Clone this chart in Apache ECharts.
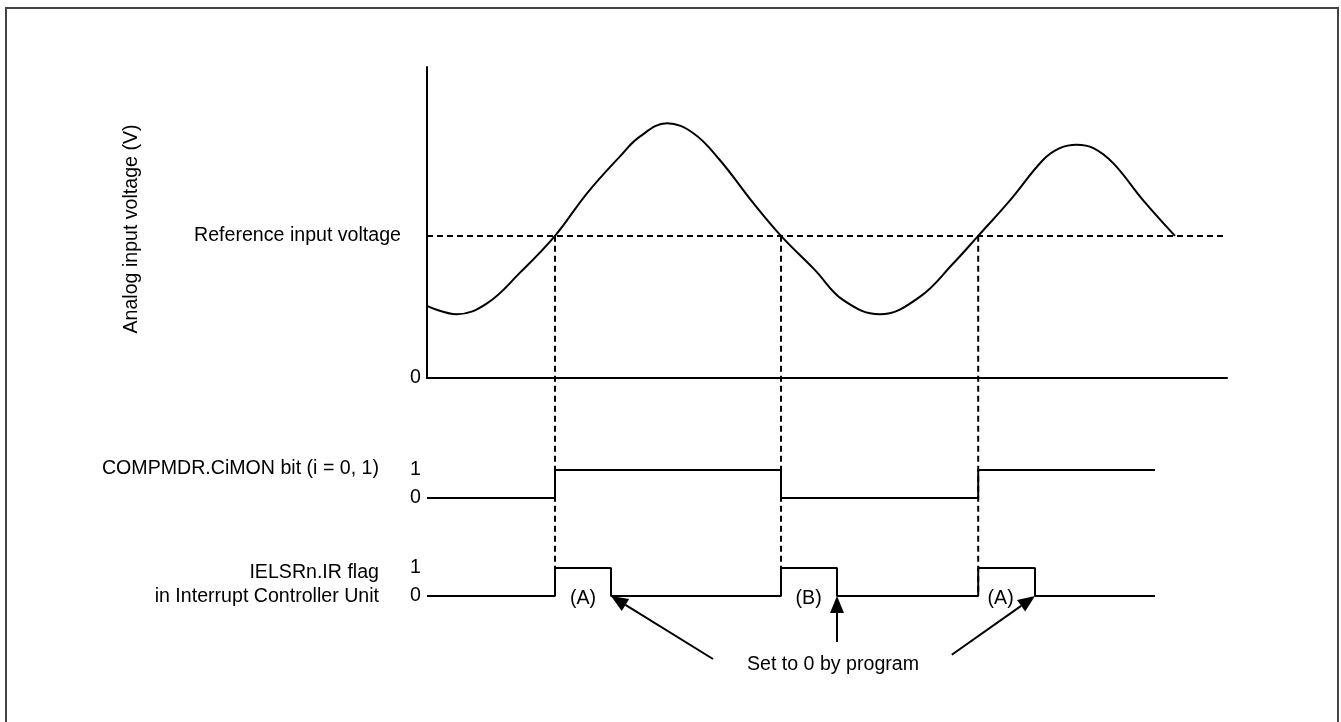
<!DOCTYPE html>
<html>
<head>
<meta charset="utf-8">
<script src="https://cdn.jsdelivr.net/npm/echarts@6/dist/echarts.min.js"></script>
<style>
    html, body { margin: 0; padding: 0; background: #fff; }
    #chart { width: 1341px; height: 722px; }
</style>
</head>
<body>
<div id="chart"></div>
<script>
// analog input waveform (time units 0..100, voltage units 0..100)
var timeSamples = [0, 3.7, 7.5, 11.6, 16, 20, 24.1, 26.6, 30, 33.3, 36.6, 40.8, 44.25, 48.5, 52, 56.6, 61.6, 65.8, 68.9, 72.9, 77, 79.1, 81.2, 83.3, 85.8, 89.5, 93.5];
var voltageSamples = [23.2, 20.5, 24.0, 33.8, 45.7, 59.4, 71.2, 77.6, 81.9, 78.7, 70.1, 56.2, 45.7, 34.7, 25.1, 20.5, 26.1, 36.9, 45.7, 57.2, 70.1, 73.9, 75.0, 73.9, 69.0, 57.2, 45.7];
var referenceVoltage = 45.7;
var crossTimes = [16, 44.25, 68.9];

// COMPMDR.CiMON bit (level changes)
var monTimes = [0, 16, 44.25, 68.9, 91];
var monLevels = [0, 1, 0, 1, 1];

// IELSRn.IR flag (level changes)
var irTimes = [0, 16, 23, 44.25, 51.25, 68.9, 76, 91];
var irLevels = [0, 1, 0, 1, 0, 1, 0, 0];

// annotations
var pulseTags = ['(A)', '(B)', '(A)'];
var tagTimes = [19.5, 47.7, 71.7];
var clearTimes = [23, 51.25, 76];
var arrowTails = [[35.75, -2.25], [51.25, -1.64], [65.6, -2.1]];
var noteText = 'Set to 0 by program';
var notePos = [50.75, -2.46];

var FONT = 'Liberation Sans, Arial, sans-serif';
var FS = 19.6;

function zip(xs, ys) {
    var out = [];
    for (var i = 0; i < xs.length; i++) {
        out.push([xs[i], ys[i]]);
    }
    return out;
}

var chart = echarts.init(document.getElementById('chart'));

var hiddenX = function (idx) {
    return {
        type: 'value', gridIndex: idx, min: 0, max: 100,
        axisLine: { show: false }, axisTick: { show: false },
        axisLabel: { show: false }, splitLine: { show: false }
    };
};
var levelY = function (idx) {
    return {
        type: 'value', gridIndex: idx, min: 0, max: 1, interval: 1,
        axisLine: { show: false }, axisTick: { show: false }, splitLine: { show: false },
        axisLabel: { color: '#000', fontFamily: FONT, fontSize: FS, margin: 6 }
    };
};

var option = {
    animation: false,
    backgroundColor: '#fff',
    grid: [
        { left: 427, top: 67, width: 800, height: 311 },
        { left: 427, top: 470, width: 800, height: 28 },
        { left: 427, top: 568, width: 800, height: 28 }
    ],
    xAxis: [
        {
            type: 'value', gridIndex: 0, min: 0, max: 100,
            axisLine: { show: true, lineStyle: { color: '#000', width: 2 } },
            axisTick: { show: false }, axisLabel: { show: false }, splitLine: { show: false }
        },
        hiddenX(1),
        hiddenX(2)
    ],
    yAxis: [
        {
            type: 'value', gridIndex: 0, min: 0, max: 100, interval: 100,
            axisLine: { show: true, lineStyle: { color: '#000', width: 2 } },
            axisTick: { show: false }, splitLine: { show: false },
            axisLabel: {
                color: '#000', fontFamily: FONT, fontSize: FS, margin: 6,
                padding: [0, 0, 12, 0],
                formatter: function (v) { return v === 0 ? '0' : ''; }
            }
        },
        levelY(1),
        levelY(2)
    ],
    series: [
        {
            type: 'line', xAxisIndex: 0, yAxisIndex: 0,
            data: zip(timeSamples, voltageSamples),
            smooth: 0.4, symbol: 'none', clip: false,
            lineStyle: { color: '#000', width: 2 },
            markLine: {
                silent: true, symbol: 'none',
                lineStyle: { color: '#000', width: 2, type: [6, 4] },
                label: {
                    show: true, position: 'start', distance: 26,
                    formatter: 'Reference input voltage',
                    color: '#000', fontFamily: FONT, fontSize: FS
                },
                data: [{ yAxis: referenceVoltage }]
            }
        },
        {
            type: 'line', xAxisIndex: 1, yAxisIndex: 1,
            data: zip(monTimes, monLevels),
            step: 'end', symbol: 'none', clip: false,
            lineStyle: { color: '#000', width: 2 }
        },
        {
            type: 'line', xAxisIndex: 2, yAxisIndex: 2,
            data: zip(irTimes, irLevels),
            step: 'end', symbol: 'none', clip: false,
            lineStyle: { color: '#000', width: 2 }
        }
    ]
};
chart.setOption(option);

// annotations placed through the axes' own scales
var graphics = [];

graphics.push({
    type: 'rect', silent: true,
    shape: { x: 6, y: 8, width: 1332, height: 720 },
    style: { fill: null, stroke: '#444', lineWidth: 2 }
});

graphics.push({
    type: 'text', x: 132, y: 229, rotation: Math.PI / 2,
    style: { text: 'Analog input voltage (V)', fill: '#000', font: FS + 'px ' + FONT, align: 'center', verticalAlign: 'middle' }
});
graphics.push({
    type: 'text', x: 379, y: 469,
    style: { text: 'COMPMDR.CiMON bit (i = 0, 1)', fill: '#000', font: FS + 'px ' + FONT, align: 'right', verticalAlign: 'middle' }
});
graphics.push({
    type: 'text', x: 379, y: 573,
    style: { text: 'IELSRn.IR flag', fill: '#000', font: FS + 'px ' + FONT, align: 'right', verticalAlign: 'middle' }
});
graphics.push({
    type: 'text', x: 379, y: 597,
    style: { text: 'in Interrupt Controller Unit', fill: '#000', font: FS + 'px ' + FONT, align: 'right', verticalAlign: 'middle' }
});

// vertical dashed guides at the reference crossings
crossTimes.forEach(function (t) {
    var top = chart.convertToPixel({ gridIndex: 0 }, [t, referenceVoltage]);
    var bottom = chart.convertToPixel({ gridIndex: 2 }, [t, 0]);
    graphics.push({
        type: 'line', silent: true, z: -1,
        shape: { x1: top[0], y1: top[1], x2: bottom[0], y2: bottom[1] },
        style: { stroke: '#000', lineWidth: 2, lineDash: [6, 4] }
    });
});

// (A)/(B) tags
pulseTags.forEach(function (tag, i) {
    var p = chart.convertToPixel({ gridIndex: 2 }, [tagTimes[i], -0.1]);
    graphics.push({
        type: 'text', x: p[0], y: p[1],
        style: { text: tag, fill: '#000', font: FS + 'px ' + FONT, align: 'center', verticalAlign: 'middle' }
    });
});

// arrows pointing at the program clears
clearTimes.forEach(function (t, i) {
    var tip = chart.convertToPixel({ gridIndex: 2 }, [t, 0]);
    var tail = chart.convertToPixel({ gridIndex: 2 }, arrowTails[i]);
    var dx = tip[0] - tail[0], dy = tip[1] - tail[1];
    var len = Math.sqrt(dx * dx + dy * dy);
    var ux = dx / len, uy = dy / len;
    var headLen = 17, headHalf = 7;
    var bx = tip[0] - ux * headLen, by = tip[1] - uy * headLen;
    graphics.push({
        type: 'line', silent: true,
        shape: { x1: tail[0], y1: tail[1], x2: bx, y2: by },
        style: { stroke: '#000', lineWidth: 2 }
    });
    graphics.push({
        type: 'polygon', silent: true,
        shape: { points: [[tip[0], tip[1]], [bx - uy * headHalf, by + ux * headHalf], [bx + uy * headHalf, by - ux * headHalf]] },
        style: { fill: '#000' }
    });
});

var np = chart.convertToPixel({ gridIndex: 2 }, notePos);
graphics.push({
    type: 'text', x: np[0], y: np[1],
    style: { text: noteText, fill: '#000', font: FS + 'px ' + FONT, align: 'center', verticalAlign: 'middle' }
});

chart.setOption({ graphic: graphics });
</script>
</body>
</html>
